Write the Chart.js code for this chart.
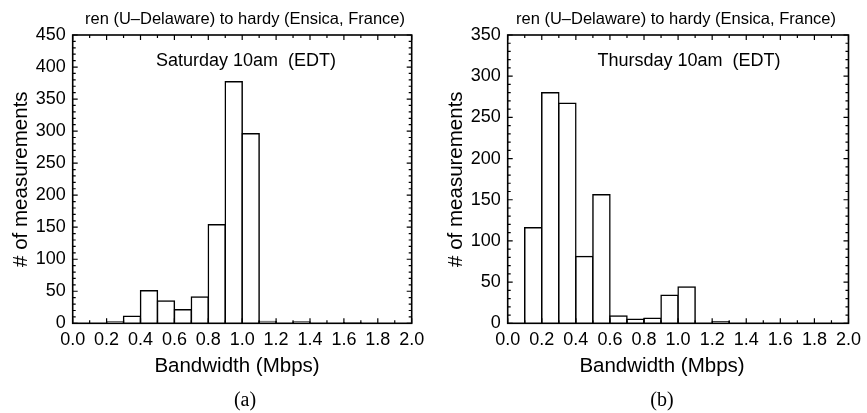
<!DOCTYPE html>
<html>
<head>
<meta charset="utf-8">
<script src="https://cdn.jsdelivr.net/npm/chart.js@4.4.1/dist/chart.umd.min.js"></script>
<style>
  html, body { margin: 0; padding: 0; background: #fff; }
  #wrap { position: relative; width: 867px; height: 413px; }
  .panel { position: absolute; top: 0; height: 413px; }
</style>
</head>
<body>
<div id="wrap">
  <div class="panel" style="left:0;width:440px"><canvas id="chartSat"></canvas></div>
  <div class="panel" style="left:440px;width:427px"><canvas id="chartThu"></canvas></div>
</div>
<script>
// bin centres (Mbps), bin width 0.1
const binCenters = [0.05, 0.15, 0.25, 0.35, 0.45, 0.55, 0.65, 0.75, 0.85, 0.95,
                    1.05, 1.15, 1.25, 1.35, 1.45, 1.55, 1.65, 1.75, 1.85, 1.95];
// (a) Saturday 10am
const satCounts = [0, 0, 2, 11, 51, 35, 21, 41, 154, 377, 296, 3, 0, 2, 0, 0, 1, 0, 0, 0];
// (b) Thursday 10am
const thuCounts = [0, 116, 280, 267, 81, 156, 9, 5, 6, 34, 44, 0, 2, 0, 0, 0, 0, 0, 0, 0];

const xTickStep = 0.2;
const xMinorStep = 0.1;
const xMax = 2.0;
const yTickStep = 50;
const yMinorStep = 10;

const pathTitle = 'ren (U\u2013Delaware) to hardy (Ensica, France)';
const xTitle = 'Bandwidth (Mbps)';
const yTitle = '# of measurements';

const SANS = '"Liberation Sans", Arial, Helvetica, sans-serif';
const SERIF = '"Liberation Serif", "DejaVu Serif", serif';

// inward ticks on all four sides + the frame
const tickFrame = {
  id: 'tickFrame',
  afterDatasetsDraw(chart) {
    const { ctx, chartArea: a, scales: { x, y } } = chart;
    ctx.save();
    ctx.strokeStyle = '#000';
    ctx.lineWidth = 1.2;
    ctx.beginPath();
    const nx = Math.round(xMax / xMinorStep);
    for (let i = 0; i <= nx; i++) {
      const px = x.getPixelForValue(i * xMinorStep);
      const len = i % Math.round(xTickStep / xMinorStep) === 0 ? 5 : 3;
      ctx.moveTo(px, a.bottom); ctx.lineTo(px, a.bottom - len);
      ctx.moveTo(px, a.top); ctx.lineTo(px, a.top + len);
    }
    const ny = Math.round(y.max / yMinorStep);
    for (let i = 0; i <= ny; i++) {
      const py = y.getPixelForValue(i * yMinorStep);
      const len = (i * yMinorStep) % yTickStep === 0 ? 5 : 3;
      ctx.moveTo(a.left, py); ctx.lineTo(a.left + len, py);
      ctx.moveTo(a.right, py); ctx.lineTo(a.right - len, py);
    }
    ctx.stroke();
    ctx.lineWidth = 1.6;
    ctx.strokeRect(a.left, a.top, a.right - a.left, a.bottom - a.top);
    ctx.restore();
  }
};

// headings, in-plot note, axis titles and panel letter
const labels = {
  id: 'labels',
  afterDraw(chart, args, o) {
    const { ctx, chartArea: a } = chart;
    ctx.save();
    ctx.fillStyle = '#000';
    ctx.textAlign = 'center';
    ctx.textBaseline = 'middle';
    ctx.font = '16.5px ' + SANS;
    ctx.fillText(pathTitle, o.titleX, 19);
    ctx.font = '18px ' + SANS;
    ctx.fillText(o.note, o.noteX, 61);
    ctx.font = '20.5px ' + SANS;
    ctx.fillText(xTitle, o.xTitleX, 366);
    ctx.save();
    ctx.translate(o.yTitleX, (a.top + a.bottom) / 2);
    ctx.rotate(-Math.PI / 2);
    ctx.fillText(yTitle, 0, 0);
    ctx.restore();
    ctx.font = '20px ' + SERIF;
    ctx.fillText(o.letter, o.letterX, 401);
    ctx.restore();
  }
};

function makeHistogram(id, counts, yMax, yAxisWidth, rightPad, text) {
  const points = binCenters.map((c, i) => ({ x: c, y: counts[i] > 0 ? counts[i] : null }));
  return new Chart(document.getElementById(id).getContext('2d'), {
    type: 'bar',
    data: {
      datasets: [{
        data: points,
        backgroundColor: '#fff',
        borderColor: '#000',
        borderWidth: 1.5,
        borderSkipped: 'start',
        inflateAmount: 0.75,
        barPercentage: 1,
        categoryPercentage: 1
      }]
    },
    options: {
      responsive: true,
      maintainAspectRatio: false,
      animation: false,
      layout: { padding: { left: 0, right: rightPad, top: 35, bottom: 0 } },
      plugins: {
        legend: { display: false },
        tooltip: { enabled: false },
        labels: text
      },
      scales: {
        x: {
          type: 'linear',
          min: 0,
          max: xMax,
          offset: false,
          grid: { display: false, drawTicks: false },
          border: { display: false },
          ticks: {
            stepSize: xTickStep,
            padding: 6,
            maxRotation: 0,
            autoSkip: false,
            color: '#000',
            font: { family: SANS, size: 18 },
            callback: v => v.toFixed(1)
          },
          afterFit: s => { s.height = 89.7; }
        },
        y: {
          min: 0,
          max: yMax,
          grid: { display: false, drawTicks: false },
          border: { display: false },
          ticks: {
            stepSize: yTickStep,
            padding: 7,
            color: '#000',
            font: { family: SANS, size: 18 }
          },
          afterFit: s => { s.width = yAxisWidth; }
        }
      }
    },
    plugins: [tickFrame, labels]
  });
}

makeHistogram('chartSat', satCounts, 450, 72.7, 28.3, {
  note: 'Saturday 10am  (EDT)', noteX: 246, titleX: 245,
  xTitleX: 237, yTitleX: 21, letter: '(a)', letterX: 245
});
makeHistogram('chartThu', thuCounts, 350, 67.7, 16.3, {
  note: 'Thursday 10am  (EDT)', noteX: 249, titleX: 236,
  xTitleX: 222, yTitleX: 16, letter: '(b)', letterX: 222
});
</script>
</body>
</html>
